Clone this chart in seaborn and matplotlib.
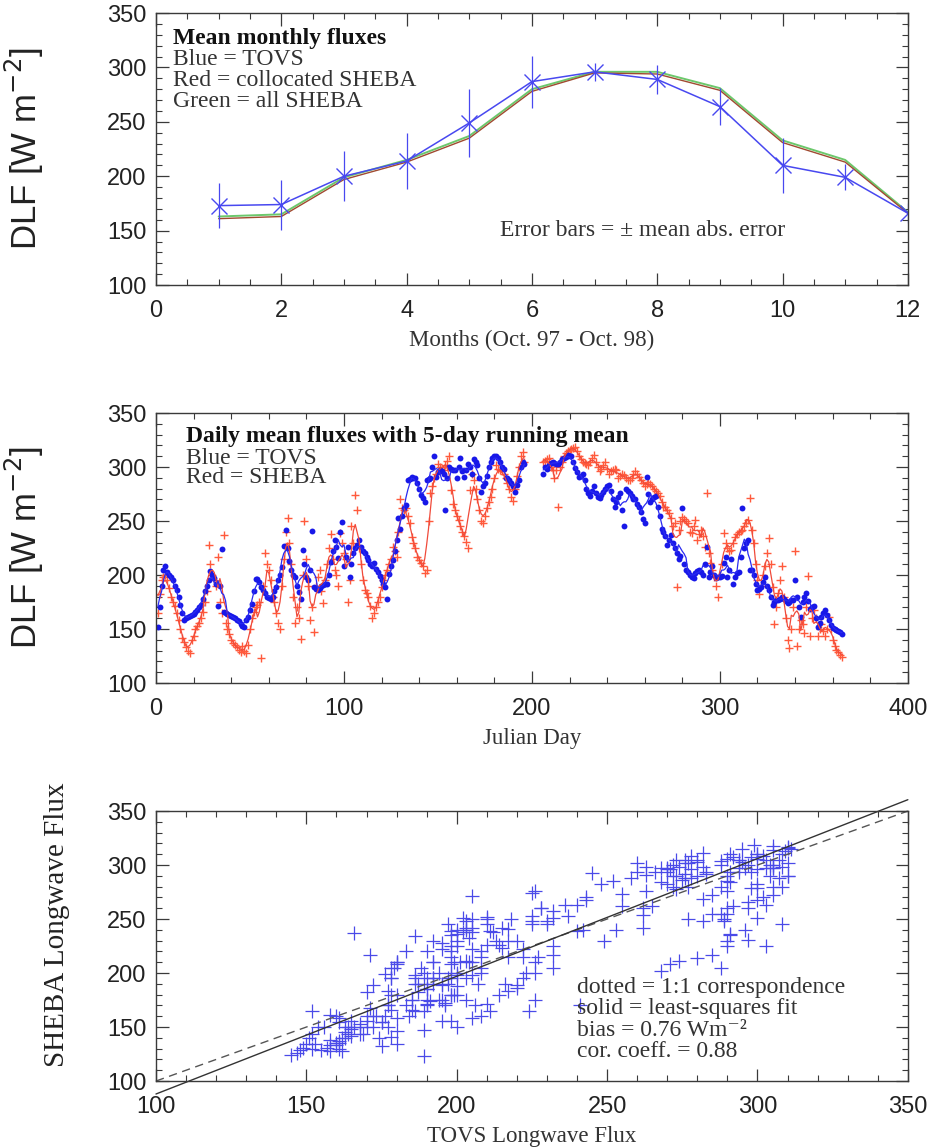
import numpy as np
import pandas as pd
import matplotlib
matplotlib.use("Agg")
import matplotlib.pyplot as plt
import seaborn as sns

# ---------------- data ----------------
months = [1, 2, 3, 4, 5, 6, 7, 8, 9, 10, 11, 12]
tovs_monthly = [173, 174, 200, 214, 249, 287, 296, 289, 264, 210, 199, 166]
tovs_monthly_err = [21, 23, 23, 26, 31, 24, 8, 13, 17, 25, 12, 9]
sheba_coll_monthly = [161, 163, 197, 213, 235, 278, 295, 294, 279, 231, 213, 166]
sheba_all_monthly = [163, 165, 199, 215, 237, 280, 296, 296, 281, 233, 215, 167]

tovs_daily = [
    152, 170, 190, 205, 208, 203, 200, 198, 195, 190,
    186, 180, 172, 165, 158, 160, 161, 162, 163, 164,
    166, 168, 170, 172, 178, 185, 190, 195, 204, 200,
    197, 192, 171, 190, 224, 166, 165, 164, 163, 162,
    161, 160, 158, 157, 155, 153, 152, 158, 161, 168,
    173, 185, 196, 196, 194, 189, 186, 183, 180, 179,
    178, 180, 185, 189, 195, 200, 207, 227, 242, 225,
    213, 205, 200, 198, 190, 184, 178, 223, 210, 198,
    195, 205, 241, 189, 187, 186, 188, 190, 191, 192,
    192, 200, 212, 222, 232, 226, 216, 240, 249, 208,
    217, 226, 198, 210, 220, 225, 228, 232, 226, 222,
    220, 217, 214, 210, 208, 211, 206, 203, 199, 195,
    192, 189, 178, 201, 208, 214, 222, 232, 253, 243,
    255, 262, 265, 288, 289, 291, 290, 290, 285, 280,
    274, 271, 268, 288, 289, 290, 300, 310, 291, 295,
    297, 296, 294, 260, 290, 300, 298, 297, 297, 290,
    300, 308, 296, 291, 297, 303, 300, 294, 307, 305,
    302, 290, 277, 282, 285, 292, 300, 305, 308, 310,
    310, 308, 305, 300, 298, 290, 290, 288, 285, 282,
    277, 283, 288, 300, 305, 303, np.nan, np.nan, np.nan, np.nan,
    np.nan, np.nan, np.nan, np.nan, np.nan, 294, 300, 298, 302, 304,
    305, 304, 303, 303, 305, 307, 308, 309, 311, 310,
    310, 305, 299, 295, 291, 292, 294, 288, 280, 276,
    273, 278, 282, 276, 272, 271, 274, 277, 280, 282,
    283, 278, 270, 263, 268, 272, 276, 260, 245, 280,
    278, 276, 273, 270, 270, 266, 263, 258, 252, 248,
    291, 275, 268, 270, 272, 273, 263, 255, 243, 240,
    236, 228, 232, 237, 230, 225, 220, 215, 218, 262,
    210, 205, 203, 200, 198, 197, 202, 204, 205, 203,
    200, 210, 226, 198, 203, 208, 200, 197, 198, 198,
    199, 211, 217, 198, 205, 215, 192, 198, 202, 203,
    217, 262, 225, 230, 232, 205, 205, 200, 192, 186,
    187, 189, 194, 198, 190, 186, 180, 172, 175, 177,
    177, 178, 180, 178, 176, 174, 175, 177, 177, 195,
    180, 170, 161, 175, 180, 183, 176, 169, 170, 171,
    160, 152, 156, 161, 165, 168, 163, 158, 154, 151,
    150, 149, 148, 147, 145,
]

sheba_daily = [
    165, 182, 195, 198, 200, 195, 188, 180, 175, 171,
    165, 158, 150, 142, 138, 133, 130, 128, 140, 144,
    150, 153, 156, 160, 166, 175, 185, 228, 210, 200,
    195, 190, 217, 175, 165, 237, 156, 150, 145, 140,
    137, 135, 133, 131, 129, 134, 130, 128, 135, 150,
    160, 166, 170, 172, 175, 123, 190, 220, 210, 205,
    195, 180, 175, 165, 156, 150, 190, 215, 240, 253,
    230, 210, 180, 156, 170, 160, 141, 200, 250, 215,
    190, 158, 170, 147, 190, 198, 205, 185, 174, 195,
    210, 225, 238, 215, 205, 200, 190, 239, 230, 220,
    215, 175, 195, 245, 230, 274, 260, 225, 210, 195,
    186, 183, 180, 171, 160, 165, 170, 175, 180, 189,
    195, 200, 205, 210, 215, 226, 222, 217, 240, 270,
    262, 260, 262, 255, 248, 235, 230, 225, 217, 214,
    211, 208, 202, 205, 250, 276, 282, 290, 294, 303,
    300, 297, 297, 302, 306, 310, 279, 266, 260, 255,
    251, 245, 240, 236, 231, 225, 279, 294, 288, 280,
    270, 260, 250, 248, 255, 262, 268, 272, 280, 290,
    302, 298, 297, 296, 294, 290, 285, 280, 272, 269,
    280, 292, 300, 310, 314, 305, np.nan, np.nan, np.nan, np.nan,
    np.nan, np.nan, np.nan, np.nan, np.nan, 305, 306, 307, 308, 300,
    297, 290, 297, 263, 300, 305, 310, 313, 315, 316,
    317, 318, 319, 315, 310, 307, 305, 304, 303, 302,
    305, 308, 311, 305, 300, 296, 298, 302, 305, 298,
    294, 296, 297, 298, 297, 290, 292, 294, 293, 290,
    288, 288, 290, 294, 296, 294, 291, 288, 285, 282,
    284, 286, 284, 282, 280, 278, 276, 273, 268, 263,
    263, 260, 257, 253, 245, 248, 189, 242, 250, 254,
    252, 250, 248, 240, 239, 245, 251, 232, 238, 242,
    236, 226, 276, 220, 211, 205, 198, 190, 180, 200,
    210, 239, 230, 225, 222, 223, 230, 235, 238, 240,
    241, 242, 245, 248, 251, 271, 242, 230, 210, 195,
    182, 190, 200, 208, 220, 234, 210, 189, 155, 170,
    183, 195, 208, 180, 160, 140, 132, 150, 170, 222,
    134, 150, 158, 155, 146, 170, 199, 144, 160, 168,
    160, 144, 150, 155, 148, 144, 150, 161, 150, 140,
    134, 131, 129, 126, 124,
]

days = list(range(1, len(tovs_daily) + 1))

fit_coef = [1.09, -21.0]        # least-squares fit: slope, intercept
one_to_one = [100, 350]

ytick_vals = [100, 150, 200, 250, 300, 350]

# ---------------- style ----------------
sns.set_style("ticks")
plt.rcParams["font.family"] = ["Liberation Sans", "DejaVu Sans"]
plt.rcParams["xtick.direction"] = "in"
plt.rcParams["ytick.direction"] = "in"
plt.rcParams["xtick.top"] = True
plt.rcParams["ytick.right"] = True

SERIF = ["Liberation Serif", "DejaVu Serif"]
SANS = ["Liberation Sans", "DejaVu Sans"]
FRAME = "#3a3a3a"
TXT = 17
XLAB = 16.5

fig = plt.figure(figsize=(9.34, 11.47), dpi=100)
ax1 = fig.add_axes([0.167, 0.7515, 0.805, 0.2371])
ax2 = fig.add_axes([0.167, 0.4045, 0.805, 0.2354])
ax3 = fig.add_axes([0.167, 0.0575, 0.805, 0.2354])


def style_axes(ax, xmajor, xminor):
    ax.set_ylim(100, 350)
    ax.set_yticks(ytick_vals)
    ax.set_yticks(np.arange(100, 351, 10), minor=True)
    ax.set_xticks(xmajor)
    ax.set_xticks(xminor, minor=True)
    ax.tick_params(which="major", length=9, width=0.9, color=FRAME,
                   labelsize=17, pad=7, direction="in",
                   top=True, right=True)
    ax.tick_params(axis="x", which="major", pad=11)
    ax.tick_params(which="minor", length=4, width=0.8, color=FRAME,
                   direction="in", top=True, right=True)
    for lab in ax.get_xticklabels() + ax.get_yticklabels():
        lab.set_family(SANS)
        lab.set_color("#222222")
    for sp in ax.spines.values():
        sp.set_color(FRAME)
        sp.set_linewidth(1.0)


# ---------------- panel 1: monthly ----------------
sns.lineplot(x=months, y=sheba_all_monthly, ax=ax1, color="#6cc86c",
             linewidth=1.4, estimator=None)
sns.lineplot(x=months, y=sheba_coll_monthly, ax=ax1, color="#a04a30",
             linewidth=1.0, estimator=None)
ax1.errorbar(months, tovs_monthly, yerr=tovs_monthly_err, color="#4848f0",
             linewidth=1.1, elinewidth=0.9, marker="x", markersize=11,
             markeredgewidth=1.0, capsize=0)
ax1.set_xlim(0, 12)
style_axes(ax1, np.arange(0, 13, 2), np.arange(0, 12.01, 0.5))
ax1.set_xlabel("Months (Oct. 97 - Oct. 98)", family=SERIF, fontsize=XLAB,
               color="#333333")
ax1.set_ylabel("DLF [W m$^{-2}$]", family=SANS, fontsize=25, color="#222222")
ax1.text(0.27, 327, "Mean monthly fluxes", family=SERIF, fontsize=TXT,
         fontweight="bold", va="center", color="#111111")
ax1.text(0.27, 307, "Blue = TOVS", family=SERIF, fontsize=TXT, va="center",
         color="#333333")
ax1.text(0.27, 288, "Red = collocated SHEBA", family=SERIF, fontsize=TXT,
         va="center", color="#333333")
ax1.text(0.27, 269, "Green = all SHEBA", family=SERIF, fontsize=TXT,
         va="center", color="#333333")
ax1.text(5.49, 150.5, "Error bars = \u00b1 mean abs. error", family=SERIF,
         fontsize=TXT, va="center", color="#333333")

# ---------------- panel 2: daily ----------------
df = pd.DataFrame({"day": days, "tovs": tovs_daily, "sheba": sheba_daily})
df["tovs_rm"] = df["tovs"].rolling(5, center=True, min_periods=3).mean()
df["sheba_rm"] = df["sheba"].rolling(5, center=True, min_periods=3).mean()

ax2.plot(df["day"], df["sheba_rm"], color="#f04a3a", linewidth=0.9)
ax2.plot(df["day"], df["tovs_rm"], color="#2a2af0", linewidth=0.9)
sns.scatterplot(data=df, x="day", y="sheba", ax=ax2, marker="+",
                color="#ff5a3c", s=28, linewidth=1.0, legend=False)
sns.scatterplot(data=df, x="day", y="tovs", ax=ax2, marker="o",
                color="#1818e8", s=18, linewidth=0, legend=False)
ax2.set_xlim(0, 400)
style_axes(ax2, np.arange(0, 401, 100), np.arange(0, 401, 20))
ax2.set_xlabel("Julian Day", family=SERIF, fontsize=XLAB, color="#333333")
ax2.set_ylabel("DLF [W m$^{-2}$]", family=SANS, fontsize=25, color="#222222")
ax2.text(16, 328, "Daily mean fluxes with 5-day running mean", family=SERIF,
         fontsize=TXT, fontweight="bold", va="center", color="#111111")
ax2.text(16, 308, "Blue = TOVS", family=SERIF, fontsize=TXT, va="center",
         color="#333333")
ax2.text(16, 290, "Red = SHEBA", family=SERIF, fontsize=TXT, va="center",
         color="#333333")

# ---------------- panel 3: scatter ----------------
sns.scatterplot(data=df, x="tovs", y="sheba", ax=ax3, marker="+",
                color="#4a4ae8", s=110, linewidth=0.9, legend=False)
xl = np.array(one_to_one, dtype=float)
ax3.plot(xl, xl, color="#555555", linewidth=1.0, linestyle=(0, (6, 4)),
         clip_on=False)
ax3.plot(xl, fit_coef[0] * xl + fit_coef[1], color="#333333", linewidth=1.0,
         clip_on=False)
ax3.set_xlim(100, 350)
style_axes(ax3, np.arange(100, 351, 50), np.arange(100, 351, 10))
ax3.set_xlabel("TOVS Longwave Flux", family=SERIF, fontsize=XLAB,
               color="#333333")
ax3.set_ylabel("SHEBA Longwave Flux", family=SERIF, fontsize=21,
               color="#222222")
ax3.text(240, 187, "dotted = 1:1 correspondence", family=SERIF, fontsize=TXT,
         va="center", color="#333333")
ax3.text(240, 167, "solid = least-squares fit", family=SERIF, fontsize=TXT,
         va="center", color="#333333")
ax3.text(240, 147, "bias = 0.76 Wm\u207b\u00b2", family=SERIF, fontsize=TXT,
         va="center", color="#333333")
ax3.text(240, 127, "cor. coeff. = 0.88", family=SERIF, fontsize=TXT,
         va="center", color="#333333")

for ax in (ax1, ax2):
    ax.yaxis.set_label_coords(-0.146, 0.5)
ax3.yaxis.set_label_coords(-0.114, 0.578)
for ax in (ax1, ax2, ax3):
    ax.xaxis.set_label_coords(0.5, -0.205)
    ax.xaxis.label.set_va("center")

fig.savefig("out.png", dpi=100)
